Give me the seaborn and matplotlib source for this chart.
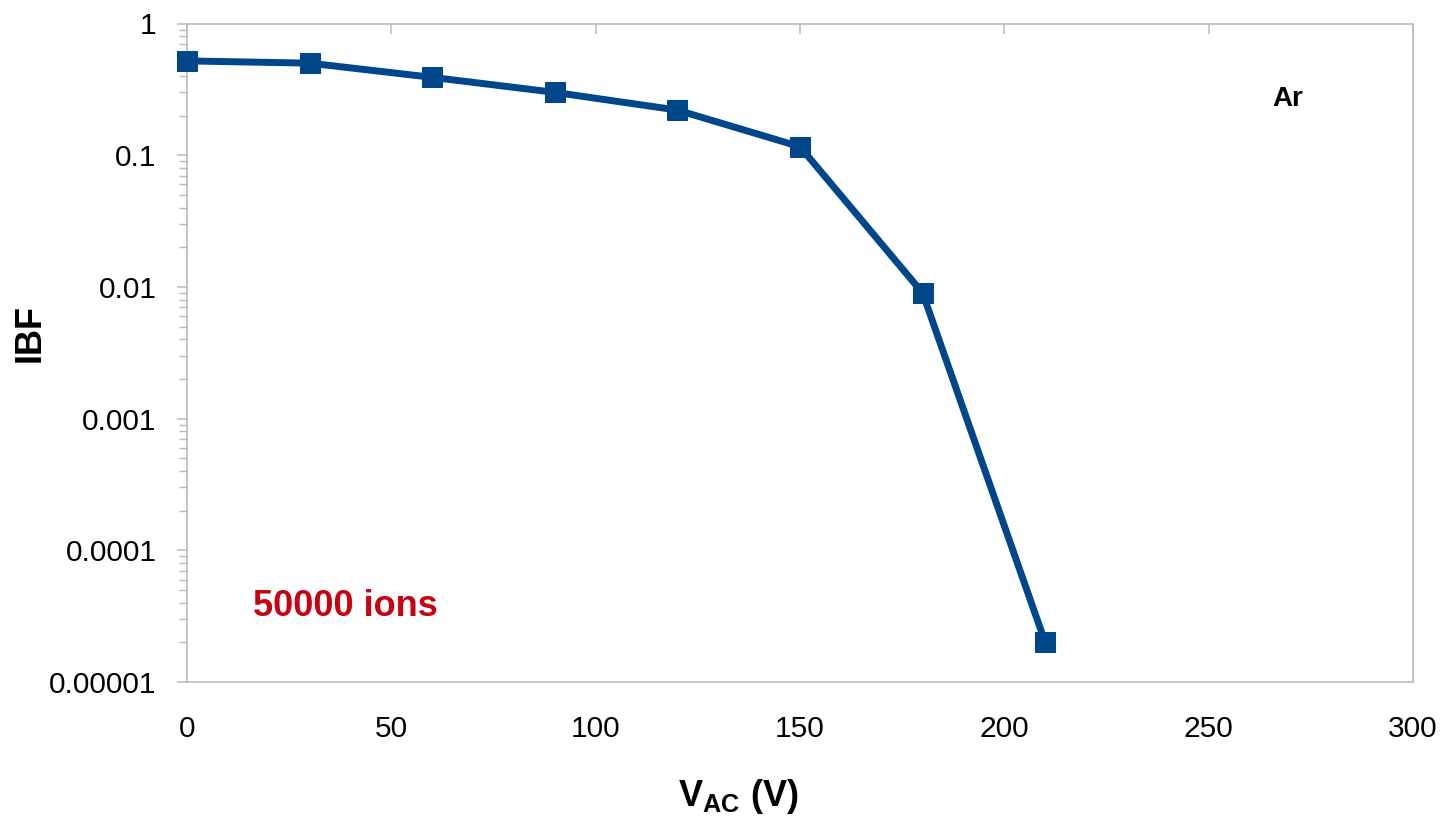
import numpy as np
import pandas as pd
import matplotlib
matplotlib.use("Agg")
import matplotlib.pyplot as plt
import matplotlib.ticker as mticker
import seaborn as sns

v_ac = [0, 30, 60, 90, 120, 150, 180, 210]
ibf = [0.52, 0.50, 0.39, 0.30, 0.22, 0.116, 0.009, 0.00002]

df = pd.DataFrame({"V_AC": v_ac, "IBF": ibf})

sns.set_style("white")
plt.rcParams["font.family"] = ["Liberation Sans", "DejaVu Sans"]
plt.rcParams["mathtext.fontset"] = "custom"
plt.rcParams["mathtext.rm"] = "Liberation Sans"
plt.rcParams["mathtext.bf"] = "Liberation Sans:bold"
plt.rcParams["mathtext.it"] = "Liberation Sans:italic"
plt.rcParams["text.color"] = "black"
plt.rcParams["axes.labelcolor"] = "black"
plt.rcParams["xtick.labelcolor"] = "black"
plt.rcParams["ytick.labelcolor"] = "black"

fig = plt.figure(figsize=(14.43, 8.18), dpi=100)
ax = fig.add_axes([187 / 1443, 1 - 682 / 818, 1226 / 1443, 658.5 / 818])

line_color = "#00468B"
sns.lineplot(data=df, x="V_AC", y="IBF", ax=ax, color=line_color, linewidth=5,
             marker="s", markersize=15, markeredgecolor=line_color,
             markerfacecolor=line_color, clip_on=False, zorder=5)

ax.set_yscale("log")
ax.set_ylim(1e-5, 1)
ax.set_xlim(0, 300)
ax.set_xticks([0, 50, 100, 150, 200, 250, 300])
ax.yaxis.set_major_locator(mticker.LogLocator(base=10, numticks=10))
ax.yaxis.set_minor_locator(mticker.LogLocator(base=10, subs=np.arange(2, 10), numticks=20))
ax.yaxis.set_minor_formatter(mticker.NullFormatter())
ax.yaxis.set_major_formatter(mticker.FuncFormatter(
    lambda v, p: f"{v:.{max(0, -int(round(np.log10(v))))}f}"))

grey = "#BBBBBB"
for s in ax.spines.values():
    s.set_color(grey)
    s.set_linewidth(1.2)

ax.tick_params(axis="y", which="major", direction="out", length=7, width=1.1,
               color=grey, labelcolor="black", labelsize=21.5, pad=15, left=True)
ax.tick_params(axis="y", which="minor", direction="out", length=5.5, width=1.0,
               color=grey, left=True)
ax.tick_params(axis="x", which="both", direction="in", length=7, width=1.1,
               color=grey, labelcolor="black", top=True, bottom=False,
               labeltop=False, labelbottom=True, labelsize=21.5, pad=24)

ax.set_ylabel("IBF", fontsize=26, fontweight="bold", color="black")
ax.yaxis.set_label_coords(-(187 - 30) / 1226, (682 - 333) / 658.5)
ax.yaxis.label.set_va("center")
ax.set_xlabel(r"$\mathbf{V}_{\mathbf{AC}}$ (V)", fontsize=26, fontweight="bold",
              color="black")
ax.xaxis.set_label_coords((738 - 187) / 1226, -(797 - 682) / 658.5)
ax.xaxis.label.set_va("center")

ax.text(0.054, 0.115, "50000 ions", transform=ax.transAxes, color="#C8000F",
        fontsize=26, fontweight="bold", ha="left", va="center")
ax.text(0.898, 0.886, "Ar", transform=ax.transAxes, color="black",
        fontsize=20, fontweight="bold", ha="center", va="center")

fig.savefig("out.png", dpi=100)
